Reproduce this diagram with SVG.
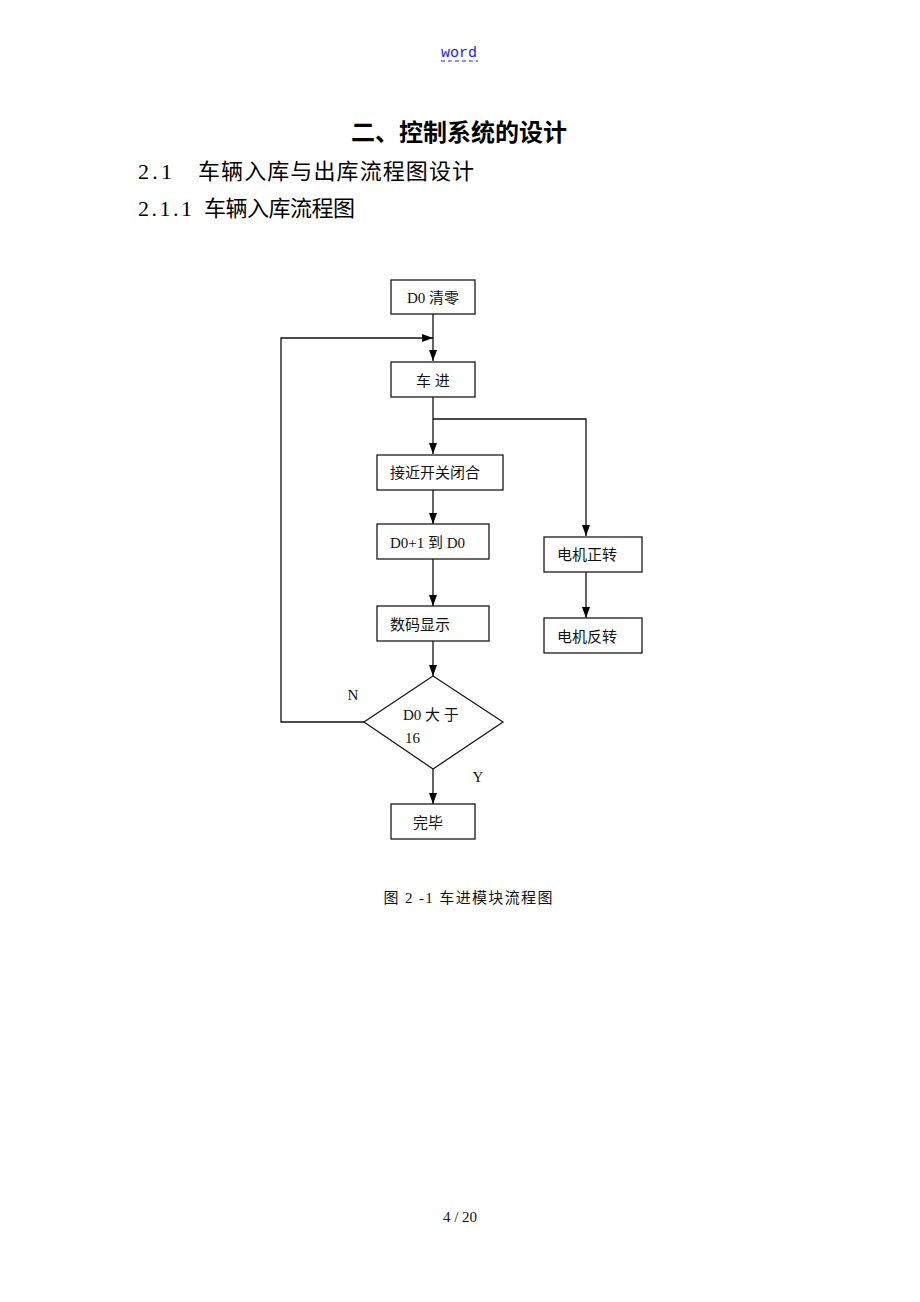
<svg xmlns="http://www.w3.org/2000/svg" width="920" height="1302" viewBox="0 0 920 1302">
<style>
.box{fill:#fff;stroke:#1a1a1a;stroke-width:1.3}
.t{font-family:"Liberation Serif","Noto Sans CJK SC",serif;font-size:15px;fill:#111}
.ln{fill:none;stroke:#111;stroke-width:1.3}
.h{font-family:"Liberation Serif","Noto Sans CJK SC",serif;fill:#000}
</style>
<defs>
<marker id="ah" markerWidth="11" markerHeight="8" refX="11" refY="4" orient="auto" markerUnits="userSpaceOnUse">
<path d="M0,0 L11,4 L0,8 Z" fill="#000"/>
</marker>
</defs>
<rect width="920" height="1302" fill="#fff"/>
<g id="header">
<text x="459" y="57" text-anchor="middle" font-family="Liberation Mono, monospace" font-size="15" fill="#1a1aff">word</text>
<line x1="441" y1="61" x2="478" y2="61" stroke="#6b6bff" stroke-width="1.5" stroke-dasharray="4,3"/>
<text class="h" x="459" y="141" text-anchor="middle" font-size="24" font-weight="bold" font-family="Noto Sans CJK SC, sans-serif">二、控制系统的设计</text>
<text class="h" x="138" y="179" font-size="22" font-family="Noto Sans CJK SC, sans-serif"><tspan textLength="34">2.1</tspan><tspan x="198" textLength="276">车辆入库与出库流程图设计</tspan></text>
<text class="h" x="138" y="216" font-size="22" font-family="Noto Sans CJK SC, sans-serif"><tspan textLength="54">2.1.1</tspan><tspan x="204" textLength="151">车辆入库流程图</tspan></text>
</g>
<g id="connectors">
<line class="ln" x1="433" y1="314" x2="433" y2="361" marker-end="url(#ah)"/>
<polyline class="ln" points="364,722 281,722 281,338 433,338" marker-end="url(#ah)"/>
<line class="ln" x1="433" y1="397" x2="433" y2="454" marker-end="url(#ah)"/>
<polyline class="ln" points="433,419 586,419 586,536" marker-end="url(#ah)"/>
<line class="ln" x1="433" y1="490" x2="433" y2="524" marker-end="url(#ah)"/>
<line class="ln" x1="433" y1="559" x2="433" y2="606" marker-end="url(#ah)"/>
<line class="ln" x1="433" y1="641" x2="433" y2="676" marker-end="url(#ah)"/>
<line class="ln" x1="433" y1="769" x2="433" y2="804" marker-end="url(#ah)"/>
<line class="ln" x1="586" y1="572" x2="586" y2="618" marker-end="url(#ah)"/>
</g>
<g id="n_clear"><rect class="box" x="391" y="280" width="84" height="34"/><text class="t" x="433" y="303" text-anchor="middle">D0 清零</text></g>
<g id="n_car"><rect class="box" x="391" y="362" width="84" height="35"/><text class="t" x="433" y="386" text-anchor="middle">车  进</text></g>
<g id="n_switch"><rect class="box" x="377" y="455" width="126" height="35"/><text class="t" x="390" y="478">接近开关闭合</text></g>
<g id="n_inc"><rect class="box" x="377" y="524" width="112" height="35"/><text class="t" x="390" y="548">D0+1 到 D0</text></g>
<g id="n_disp"><rect class="box" x="377" y="606" width="112" height="35"/><text class="t" x="390" y="630">数码显示</text></g>
<g id="n_fwd"><rect class="box" x="544" y="537" width="98" height="35"/><text class="t" x="557" y="560">电机正转</text></g>
<g id="n_rev"><rect class="box" x="544" y="618" width="98" height="35"/><text class="t" x="557" y="642">电机反转</text></g>
<g id="n_dec">
<polygon class="box" points="433,676 503,722 433,769 364,722"/>
<text class="t" x="403" y="720" font-size="13">D0  大 于</text>
<text class="t" x="405" y="743" font-size="13">16</text>
</g>
<g id="labels">
<text class="t" x="353" y="700" text-anchor="middle">N</text>
<text class="t" x="478" y="782" text-anchor="middle">Y</text>
</g>
<g id="n_done"><rect class="box" x="391" y="804" width="84" height="35"/><text class="t" x="428" y="828" text-anchor="middle">完毕</text></g>
<g id="caption">
<text class="t" x="468" y="903" text-anchor="middle" fill="#333" textLength="169">图 2 -1 车进模块流程图</text>
<text class="t" x="460" y="1222" text-anchor="middle" font-size="16">4  / 20</text>
</g>
</svg>
